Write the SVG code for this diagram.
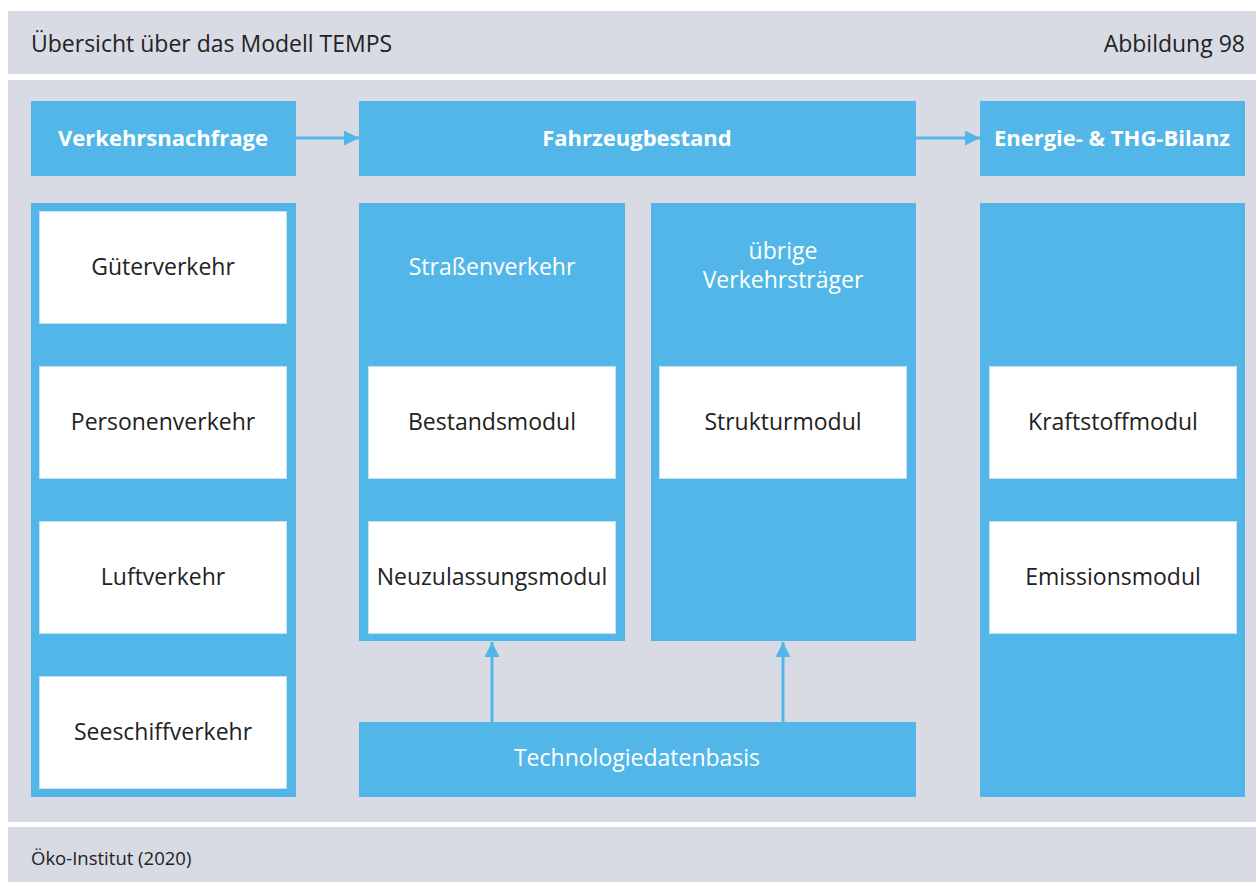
<svg xmlns="http://www.w3.org/2000/svg" width="1256" height="882" viewBox="0 0 1256 882">
<defs>
<style>
.band{fill:#d8dbe3}
.blue{fill:#52b7e8}
.wbox{fill:#ffffff;stroke:#bfe2f5;stroke-width:1}
.t{font-family:"Open Sans","Liberation Sans",sans-serif;font-size:23px;fill:#222222;text-anchor:middle}
.h{font-family:"Open Sans","Liberation Sans",sans-serif;font-size:22px;font-weight:bold;fill:#ffffff;text-anchor:middle}
.w{font-family:"Open Sans","Liberation Sans",sans-serif;font-size:23px;fill:#ffffff;text-anchor:middle}
.conn{stroke:#52b7e8;stroke-width:3;fill:none}
</style>
<marker id="ah" viewBox="0 0 10 10" refX="10" refY="5" markerWidth="5" markerHeight="5" orient="auto" markerUnits="strokeWidth">
<path d="M0,0 L10,5 L0,10 Z" fill="#52b7e8"/>
</marker>
</defs>
<rect width="1256" height="882" fill="#ffffff"/>
<g id="header">
<rect class="band" x="8" y="11" width="1248" height="63"/>
<text x="31" y="52" font-family="'Open Sans','Liberation Sans',sans-serif" font-size="23" fill="#222222">Übersicht über das Modell TEMPS</text>
<text x="1245" y="52" font-family="'Open Sans','Liberation Sans',sans-serif" font-size="23" fill="#222222" text-anchor="end">Abbildung 98</text>
</g>
<rect class="band" x="8" y="80" width="1248" height="742"/>
<g id="footer">
<rect class="band" x="8" y="827" width="1248" height="55"/>
<text x="31" y="865" font-family="'Open Sans','Liberation Sans',sans-serif" font-size="18.5" fill="#222222">Öko-Institut (2020)</text>
</g>
<g id="connectors">
<line class="conn" x1="296" y1="138" x2="359" y2="138" marker-end="url(#ah)"/>
<line class="conn" x1="916" y1="138" x2="980" y2="138" marker-end="url(#ah)"/>
<line class="conn" x1="492" y1="722" x2="492" y2="642" marker-end="url(#ah)"/>
<line class="conn" x1="783" y1="722" x2="783" y2="642" marker-end="url(#ah)"/>
</g>
<g id="verkehrsnachfrage">
<rect class="blue" x="31" y="101" width="265" height="75"/>
<text class="h" x="163" y="146">Verkehrsnachfrage</text>
</g>
<g id="fahrzeugbestand">
<rect class="blue" x="359" y="101" width="557" height="75"/>
<text class="h" x="637" y="146">Fahrzeugbestand</text>
</g>
<g id="energie">
<rect class="blue" x="980" y="101" width="265" height="75"/>
<text class="h" x="1112" y="146">Energie- &amp; THG-Bilanz</text>
</g>
<g id="nachfrage-spalte">
<rect class="blue" x="31" y="203" width="265" height="594"/>
</g>
<g id="gueterverkehr">
<rect class="wbox" x="39.5" y="211.5" width="247" height="112"/>
<text class="t" x="163" y="275">Güterverkehr</text>
</g>
<g id="personenverkehr">
<rect class="wbox" x="39.5" y="366.5" width="247" height="112"/>
<text class="t" x="163" y="430">Personenverkehr</text>
</g>
<g id="luftverkehr">
<rect class="wbox" x="39.5" y="521.5" width="247" height="112"/>
<text class="t" x="163" y="585">Luftverkehr</text>
</g>
<g id="seeschiffverkehr">
<rect class="wbox" x="39.5" y="676.5" width="247" height="112"/>
<text class="t" x="163" y="740">Seeschiffverkehr</text>
</g>
<g id="strassenverkehr">
<rect class="blue" x="359" y="203" width="266" height="438"/>
<text class="w" x="492" y="275">Straßenverkehr</text>
</g>
<g id="bestandsmodul">
<rect class="wbox" x="368.5" y="366.5" width="247" height="112"/>
<text class="t" x="492" y="430">Bestandsmodul</text>
</g>
<g id="neuzulassungsmodul">
<rect class="wbox" x="368.5" y="521.5" width="247" height="112"/>
<text class="t" x="492" y="585">Neuzulassungsmodul</text>
</g>
<g id="uebrige">
<rect class="blue" x="651" y="203" width="265" height="438"/>
<text class="w" x="783" y="259">übrige</text>
<text class="w" x="783" y="288">Verkehrsträger</text>
</g>
<g id="strukturmodul">
<rect class="wbox" x="659.5" y="366.5" width="247" height="112"/>
<text class="t" x="783" y="430">Strukturmodul</text>
</g>
<g id="technologiedatenbasis">
<rect class="blue" x="359" y="722" width="557" height="75"/>
<text class="w" x="637" y="766">Technologiedatenbasis</text>
</g>
<g id="bilanz-spalte">
<rect class="blue" x="980" y="203" width="265" height="594"/>
</g>
<g id="kraftstoffmodul">
<rect class="wbox" x="989.5" y="366.5" width="247" height="112"/>
<text class="t" x="1113" y="430">Kraftstoffmodul</text>
</g>
<g id="emissionsmodul">
<rect class="wbox" x="989.5" y="521.5" width="247" height="112"/>
<text class="t" x="1113" y="585">Emissionsmodul</text>
</g>
</svg>
